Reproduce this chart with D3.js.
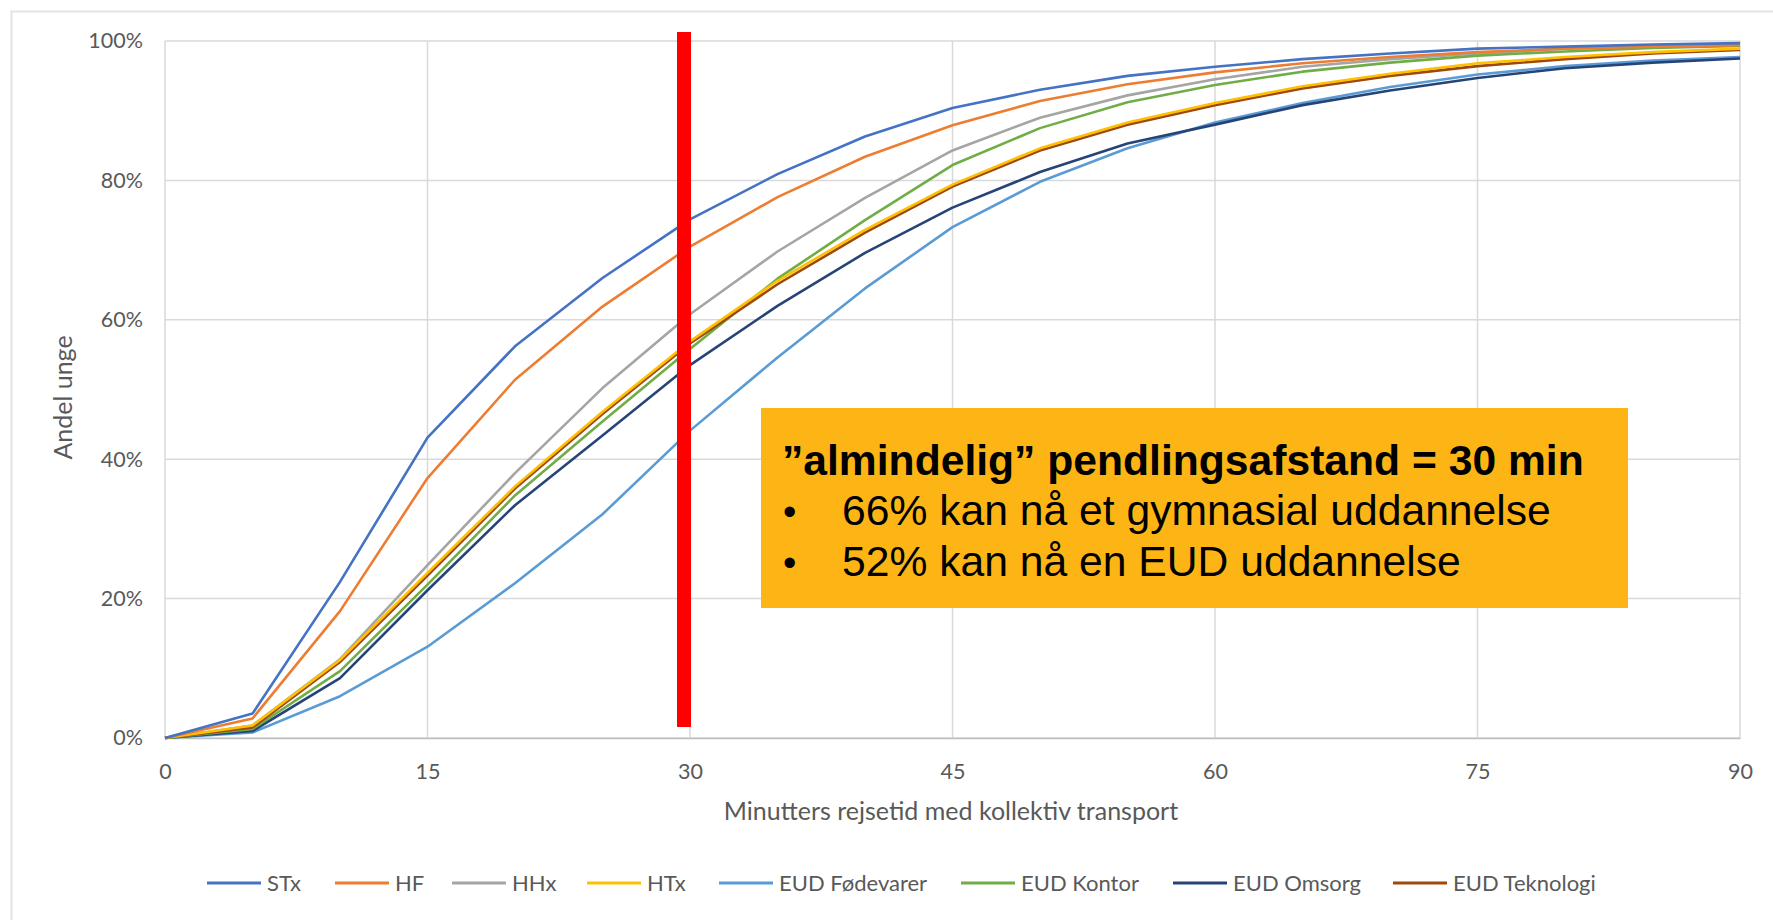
<!DOCTYPE html>
<html><head><meta charset="utf-8">
<script src="https://cdn.jsdelivr.net/npm/d3@7"></script>
<style>
body{margin:0;background:#fff;}
svg{display:block;}
</style></head><body>
<svg id="c" width="1773" height="920"></svg>
<script>
const minutes = [0,5,10,15,20,25,30,35,40,45,50,55,60,65,70,75,80,85,90];
const seriesNames = ["STx","HF","HHx","HTx","EUD Fødevarer","EUD Kontor","EUD Omsorg","EUD Teknologi"];
const seriesColors = ["#4472C4","#ED7D31","#A5A5A5","#FFC000","#5B9BD5","#70AD47","#264478","#9E480E"];
const stx   = [0,3.5,22.4,43.1,56.2,66.0,74.4,80.9,86.3,90.4,93.0,95.0,96.3,97.4,98.2,98.9,99.2,99.5,99.7];
const hf    = [0,2.8,18.2,37.3,51.4,61.9,70.5,77.6,83.4,87.9,91.4,93.8,95.5,96.8,97.7,98.4,98.9,99.2,99.4];
const hhx   = [0,1.8,11.3,24.8,38.0,50.2,60.8,69.8,77.5,84.3,89.0,92.2,94.5,96.3,97.4,98.2,98.9,99.3,99.5];
const htx   = [0,1.8,11.2,23.7,36.1,46.8,56.9,65.6,72.9,79.4,84.6,88.3,91.1,93.5,95.3,96.8,97.7,98.4,98.9];
const eudFoed = [0,0.8,6.0,13.1,22.2,32.1,44.1,54.6,64.5,73.3,79.8,84.6,88.3,91.1,93.4,95.2,96.4,97.2,97.7];
const eudKontor = [0,1.3,9.6,22.0,34.8,45.4,55.8,65.9,74.3,82.2,87.5,91.2,93.7,95.6,96.9,97.9,98.5,99.0,99.3];
const eudOmsorg = [0,1.0,8.6,21.2,33.4,43.4,53.5,62.0,69.6,76.1,81.2,85.3,88.0,90.8,92.9,94.7,96.1,96.9,97.5];
const eudTek = [0,1.5,10.9,23.3,35.8,46.5,56.6,65.1,72.5,79.1,84.3,88.0,90.8,93.2,95.0,96.4,97.4,98.2,98.7];
const seriesValues = [stx,hf,hhx,htx,eudFoed,eudKontor,eudOmsorg,eudTek];
const xTicks = [0,15,30,45,60,75,90];
const yTicks = [0,20,40,60,80,100];
const xTitle = "Minutters rejsetid med kollektiv transport";
const yTitle = "Andel unge";
const markerMinute = 30;
const boxTitle = "\u201Dalmindelig\u201D pendlingsafstand = 30 min";
const boxBullets = ["66% kan nå et gymnasial uddannelse","52% kan nå en EUD uddannelse"];

const svg = d3.select("#c");
const L=165, R=1740, T=41, B=738;
const x = d3.scaleLinear().domain([0,90]).range([L,R]);
const y = d3.scaleLinear().domain([0,100]).range([B,T]);
const gray="#595959", grid="#D9D9D9";
const font="Lato, 'Open Sans', sans-serif";

// outer frame
svg.append("rect").attr("x",11.5).attr("y",11.5).attr("width",1800).attr("height",1000)
  .attr("fill","none").attr("stroke","#E3E3E3").attr("stroke-width",2);

// gridlines
svg.append("g").selectAll("line").data(yTicks).join("line")
  .attr("x1",L).attr("x2",R).attr("y1",d=>y(d)).attr("y2",d=>y(d))
  .attr("stroke",grid).attr("stroke-width",1.5);
svg.append("g").selectAll("line").data(xTicks).join("line")
  .attr("x1",d=>x(d)).attr("x2",d=>x(d)).attr("y1",T).attr("y2",B)
  .attr("stroke",grid).attr("stroke-width",1.5);

// axes
const xAxis = d3.axisBottom(x).tickValues(xTicks).tickSize(0).tickPadding(26);
const gx = svg.append("g").attr("transform",`translate(0,${B})`).call(xAxis);
gx.select(".domain").attr("stroke","#BFBFBF").attr("stroke-width",1.5);
gx.selectAll("text").attr("fill",gray).style("font-family",font).style("font-size","21.5px");
const yAxis = d3.axisLeft(y).tickValues(yTicks).tickSize(0).tickPadding(22).tickFormat(d=>d+"%");
const gy = svg.append("g").attr("transform",`translate(${L},0)`).call(yAxis);
gy.select(".domain").remove();
gy.selectAll("text").attr("fill",gray).style("font-family",font).style("font-size","21.5px");

// titles
svg.append("text").attr("x",951).attr("y",820).attr("text-anchor","middle")
  .attr("fill",gray).style("font-family",font).style("font-size","25px").text(xTitle);
svg.append("text").attr("transform",`translate(72,${(T+B)/2+8}) rotate(-90)`).attr("text-anchor","middle")
  .attr("fill",gray).style("font-family",font).style("font-size","25px").text(yTitle);

// lines (draw in reverse so STx on top)
const line = d3.line().x((d,i)=>x(minutes[i])).y(d=>y(d));
const order = [4,6,2,5,7,3,1,0];
svg.append("g").selectAll("path").data(order).join("path")
  .attr("d",i=>line(seriesValues[i])).attr("fill","none")
  .attr("stroke",i=>seriesColors[i]).attr("stroke-width",2.6).attr("stroke-linejoin","round");

// red marker bar
svg.append("rect").attr("x",x(markerMinute)-13).attr("width",14)
  .attr("y",32).attr("height",727-32).attr("fill","#FF0000");

// annotation box
const bx=761, by=408, bw=867, bh=200;
svg.append("rect").attr("x",bx).attr("y",by).attr("width",bw).attr("height",bh).attr("fill","#FDB515");
const afont="'Liberation Sans', Arial, sans-serif";
function fit(sel, target){ const w=sel.node().getComputedTextLength(); const fs=parseFloat(sel.style("font-size")); sel.style("font-size",(fs*target/w)+"px"); }
const t1 = svg.append("text").attr("x",782).attr("y",475).attr("fill","#000").style("font-family",afont)
  .style("font-weight","bold").style("font-size","40px").text(boxTitle);
fit(t1, 802);
const bl = svg.append("g").selectAll("g").data(boxBullets).join("g");
bl.append("text").attr("x",783).attr("y",(d,i)=>525+i*51).style("font-family",afont).style("font-size","38px").text("•");
const bt = bl.append("text").attr("x",842).attr("y",(d,i)=>525+i*51).style("font-family",afont).style("font-size","38px").text(d=>d);
fit(d3.select(bt.nodes()[0]), 709);
d3.select(bt.nodes()[1]).style("font-size", d3.select(bt.nodes()[0]).style("font-size"));

// legend
const legX = [207,335,452,587,719,961,1173,1393];
const lg = svg.append("g").selectAll("g").data(seriesNames).join("g")
  .attr("transform",(d,i)=>`translate(${legX[i]},883)`);
lg.append("line").attr("x1",0).attr("x2",54).attr("stroke",(d,i)=>seriesColors[i]).attr("stroke-width",2.8);
lg.append("text").attr("x",60).attr("y",8).attr("fill",gray).style("font-family",font).style("font-size","22px").text(d=>d);
</script>
</body></html>
